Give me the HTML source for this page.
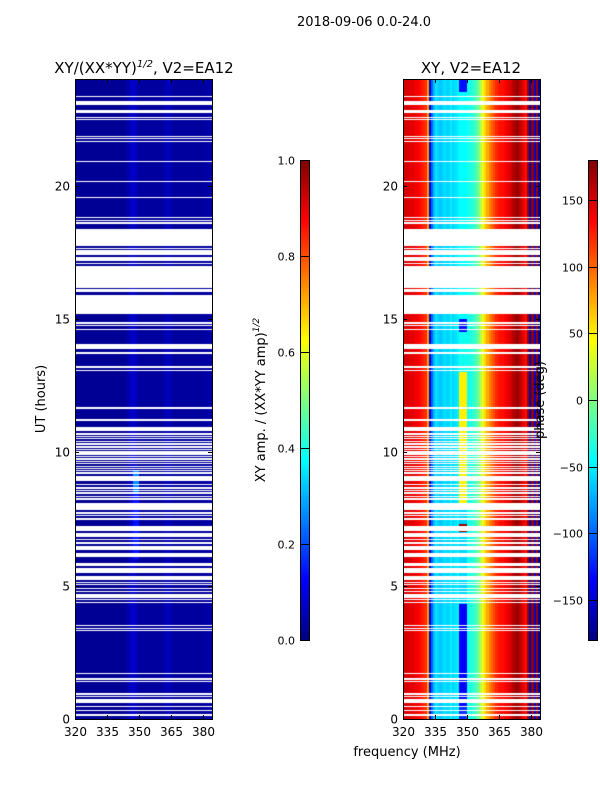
<!DOCTYPE html>
<html><head><meta charset="utf-8"><style>
html,body{margin:0;padding:0;background:#fff;}
#root{position:relative;width:600px;height:800px;overflow:hidden;font-family:"DejaVu Sans","Liberation Sans",sans-serif;}
canvas{position:absolute;}
svg{position:absolute;left:0;top:0;}
</style></head><body>
<div id="root">
<canvas id="c1" width="137" height="640" style="left:75px;top:79px"></canvas>
<canvas id="c2" width="137" height="640" style="left:403px;top:79px"></canvas>
<canvas id="cb1" width="9" height="480" style="left:300px;top:160px"></canvas>
<canvas id="cb2" width="9" height="480" style="left:588px;top:160px"></canvas>
<svg id="ov" width="600" height="800"></svg>
</div>
<script>
// ---- data ----
const freqStart = 320, freqEnd = 384;
const xTicks = [320,335,350,365,380];
const yTicks = [0,5,10,15,20];
const ampTicks = [0.0,0.2,0.4,0.6,0.8,1.0];
const phaseTicks = [-150,-100,-50,0,50,100,150];
// phase profile per 1 MHz bin, 320..383
const phaseProfile = [150,150,148,145,145,140,140,135,130,125,120,
 80,-150,-100,-70,
 -55,-60,-65,-60,-55,-60,-60,-50,-60,-55,-50,
 -55,-55,-55,-55,
 -40,-35,-30,-25,-15,0,20,40,
 60,75,90,100,110,
 120,125,130,130,135,140,145,150,160,
 165,170,160,150,140,130,
 170,-160,175,-150,170,-170];
// amplitude profile per 1 MHz bin
const ampProfile = [0.02,0.02,0.02,0.02,0.02,0.02,0.02,0.02,0.02,0.02,0.02,0.02,0.02,0.02,0.02,0.02,0.02,0.02,0.02,0.02,0.02,0.02,0.02,0.02,
 0.04,0.06,0.07,0.07,0.06,0.04,0.03,0.03,0.03,0.03,0.03,0.03,0.03,0.03,0.03,0.03,0.03,
 0.04,0.05,0.06,0.05,0.04,0.03,0.03,0.03,0.03,0.03,0.03,0.03,0.03,0.03,0.03,0.03,0.03,0.03,0.03,0.03,0.04,0.04,0.03];
// phase of the 346-349 MHz block by time segment [start h, end h, phase]
const blockSegStart = [0.0, 0.5, 4.3, 7.0, 7.3, 8.0, 13.0, 14.5, 15.0, 23.5];
const blockSegEnd   = [0.5, 4.3, 7.0, 7.3, 8.0, 13.0, 14.5, 15.0, 23.5, 24.0];
const blockSegPhase = [-120,-135,-60,170,-60,50,-40,-130,-45,-130];
// amplitude boost at 347-349 MHz by time
const boostStart = [6.0, 8.5];
const boostEnd = [8.5, 9.3];
const boostAmp = [0.14, 0.26];
// flagged (gap) intervals in hours
const gapStart = [23.33,23.14,23.03,22.71,22.54,22.46,21.83,21.74,21.64,20.87,20.12,19.52,18.77,18.68,18.58,17.72,17.62,17.41,17.16,17.06,16.18,16.0,15.19,14.83,14.74,14.58,13.86,13.70,13.18,13.04,11.64,11.16,10.81,
 10.66,10.57,10.49,10.39,10.29,10.18,10.07,9.99,9.91,9.82,9.72,9.63,9.55,9.45,9.36,9.29,9.20,8.91,8.76,8.64,8.55,8.45,8.32,8.22,7.84,7.70,7.60,7.47,7.06,6.81,6.70,6.57,6.34,6.09,5.74,5.46,5.22,
 5.09,5.01,4.88,4.76,4.63,4.55,4.45,4.34,3.47,3.38,3.29,1.69,1.47,1.38,0.91,0.82,0.60,0.44,0.29,0.13];
const gapEnd = [23.38,23.19,23.12,22.85,22.59,22.51,21.88,21.79,21.69,20.92,20.17,19.57,18.82,18.73,18.63,18.39,17.67,17.57,17.34,17.11,17.0,16.13,15.91,14.88,14.79,14.63,14.06,13.75,13.23,13.09,11.69,11.26,10.95,
 10.71,10.62,10.54,10.44,10.34,10.23,10.12,10.04,9.96,9.87,9.77,9.68,9.60,9.50,9.41,9.34,9.25,9.12,8.81,8.69,8.60,8.50,8.37,8.27,8.09,7.75,7.65,7.52,7.24,6.96,6.75,6.62,6.49,6.24,5.84,5.65,5.38,
 5.14,5.06,4.93,4.81,4.68,4.60,4.50,4.39,3.52,3.43,3.34,1.74,1.52,1.43,0.96,0.87,0.74,0.49,0.34,0.18];

// ---- scales ----
const PW=137, PH=640;
const xs = f => (f-freqStart)/(freqEnd-freqStart)*PW;
const ys = h => PH - h/24*PH;
function jet(v){v=Math.max(0,Math.min(1,v));
 const r=Math.max(0,Math.min(1,1.5-Math.abs(4*v-3)));
 const g=Math.max(0,Math.min(1,1.5-Math.abs(4*v-2)));
 const b=Math.max(0,Math.min(1,1.5-Math.abs(4*v-1)));
 return `rgb(${Math.round(r*255)},${Math.round(g*255)},${Math.round(b*255)})`;}
function segVal(t,s,e,v,def){for(let i=0;i<s.length;i++) if(t>=s[i]&&t<e[i]) return v[i]; return def;}

const c1=document.getElementById('c1').getContext('2d');
const c2=document.getElementById('c2').getContext('2d');
const dt=0.1;
for(let k=0;k<240;k++){
 const t=k*dt;
 const y0=Math.round(ys(t+dt)), y1=Math.round(ys(t));
 for(let i=0;i<phaseProfile.length;i++){
  const f=freqStart+i;
  const x0=Math.round(xs(f)), x1=Math.round(xs(f+1));
  let a=ampProfile[i];
  if(f>=347&&f<=349) a=Math.max(a,segVal(t,boostStart,boostEnd,boostAmp,a));
  c1.fillStyle=jet(a); c1.fillRect(x0,y0,x1-x0,y1-y0);
  let p=phaseProfile[i];
  if(f>=346&&f<=349) p=segVal(t,blockSegStart,blockSegEnd,blockSegPhase,p);
  c2.fillStyle=jet((p+180)/360); c2.fillRect(x0,y0,x1-x0,y1-y0);
 }
}
for(let k=0;k<gapStart.length;k++){
 const y0=Math.round(ys(gapEnd[k])), y1=Math.round(ys(gapStart[k]));
 for(const c of [c1,c2]){c.fillStyle='#fff';c.fillRect(0,y0,PW,Math.max(1,y1-y0));}
}
const cb1=document.getElementById('cb1').getContext('2d');
const cb2=document.getElementById('cb2').getContext('2d');
for(let y=0;y<480;y++){const v=1-(y+0.5)/480;cb1.fillStyle=jet(v);cb1.fillRect(0,y,9,1);cb2.fillStyle=jet(v);cb2.fillRect(0,y,9,1);}

// ---- overlay ----
const svg=document.getElementById('ov');
const NS='http://www.w3.org/2000/svg';
function el(tag,attrs,parent){const e=document.createElementNS(NS,tag);for(const k in attrs)e.setAttribute(k,attrs[k]);(parent||svg).appendChild(e);return e;}
function txt(x,y,s,anchor,size,name){const e=el('text',{x:x,y:y,'text-anchor':anchor,'font-size':size,fill:'#000'});e.textContent=s;
 
 
 return e;}
function axes(L,name){
 const T=79;
 const g=el('g',{});
 
 
 el('rect',{x:L+0.5,y:T+0.5,width:PW,height:PH,fill:'none',stroke:'#000','stroke-width':1},g);
 xTicks.forEach(v=>{const x=Math.round(L+xs(v))+0.5;
  el('line',{x1:x,x2:x,y1:T+PH,y2:T+PH-4,stroke:'#000'},g);
  el('line',{x1:x,x2:x,y1:T,y2:T+4,stroke:'#000'},g);
  const t=txt(x,T+PH+17,String(v),'middle',12,'x-tick-label');g.appendChild(t);});
 yTicks.forEach(v=>{const y=Math.round(T+ys(v))+0.5;
  el('line',{x1:L,x2:L+4,y1:y,y2:y,stroke:'#000'},g);
  el('line',{x1:L+PW,x2:L+PW-4,y1:y,y2:y,stroke:'#000'},g);
  const t=txt(L-5,y+4,String(v),'end',12,'y-tick-label');g.appendChild(t);});
}
axes(75,'left-axes');
axes(403,'right-axes');
function cbar(L,ticks,toFrac,fmt,name){
 const g=el('g',{});
 
 
 el('rect',{x:L+0.5,y:160.5,width:9,height:480,fill:'none',stroke:'#000'},g);
 ticks.forEach(v=>{const y=Math.round(160+480*(1-toFrac(v)))+0.5;
  el('line',{x1:L,x2:L+9,y1:y,y2:y,stroke:'#000'},g);
  const t=txt(L-5,y+4,fmt(v),'end',11,'colorbar-tick-label');g.appendChild(t);});
}
cbar(300,ampTicks,v=>v,v=>v.toFixed(1),'amplitude-colorbar-axis');
cbar(588,phaseTicks,v=>(v+180)/360,v=>v<0?'\u2212'+(-v):String(v),'phase-colorbar-axis');

txt(364,26,'2018-09-06 0.0-24.0','middle',13,'figure-title');
const t1=txt(144,73,'XY/(XX*YY)','middle',15,'left-panel-title');
const sp=el('tspan',{'font-size':10,dy:-6,'font-style':'italic'},t1);sp.textContent='1/2';
const sp2=el('tspan',{dy:6},t1);sp2.textContent=', V2=EA12';
txt(471,73,'XY, V2=EA12','middle',15,'right-panel-title');
const yl=txt(0,0,'UT (hours)','middle',13,'y-axis-title');yl.setAttribute('transform','translate(45,399) rotate(-90)');
txt(407,756,'frequency (MHz)','middle',13,'x-axis-title');
const al=txt(0,0,'XY amp. / (XX*YY amp)','middle',13,'amplitude-colorbar-title');
const s3=el('tspan',{'font-size':9,dy:-6,'font-style':'italic'},al);s3.textContent='1/2';
al.setAttribute('transform','translate(265,400) rotate(-90)');
const pl=txt(0,0,'phase (deg)','middle',13,'phase-colorbar-title');pl.setAttribute('transform','translate(544,400) rotate(-90)');
</script>
</body></html>
